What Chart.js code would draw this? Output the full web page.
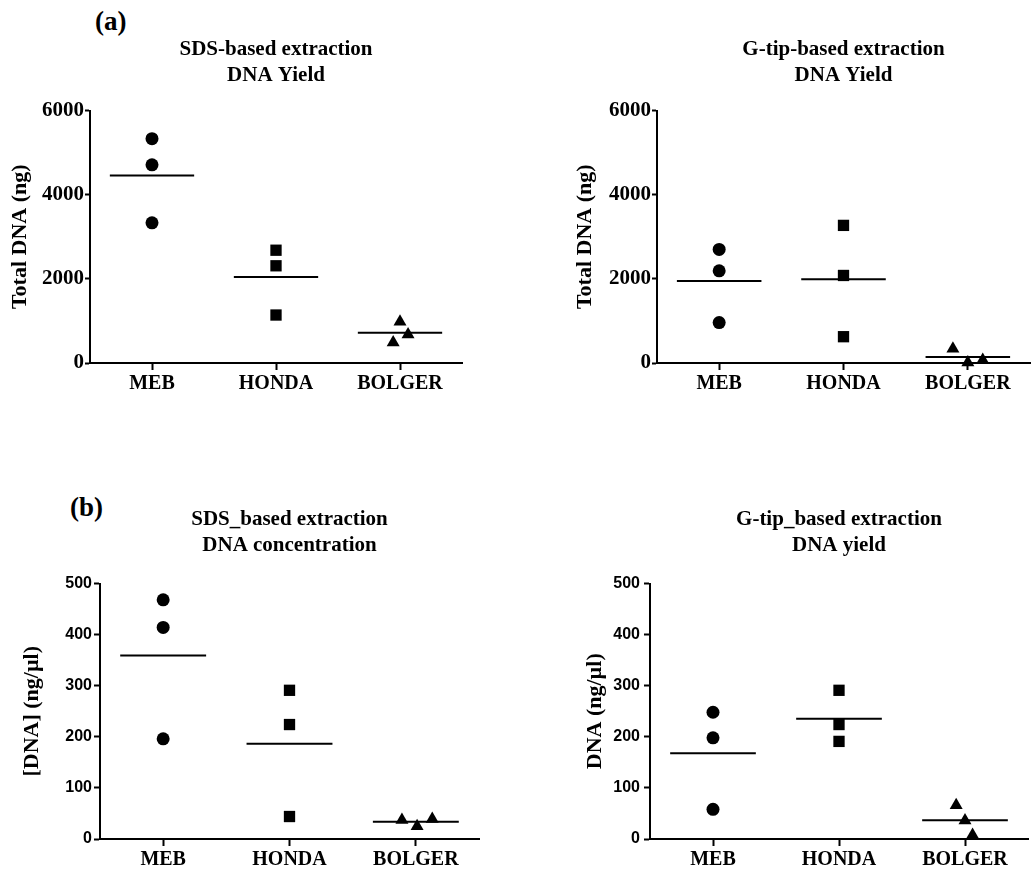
<!DOCTYPE html>
<html>
<head>
<meta charset="utf-8">
<script src="https://cdn.jsdelivr.net/npm/chart.js@4.4.1/dist/chart.umd.min.js"></script>
<style>
  html, body { margin: 0; padding: 0; background: #fff; overflow: hidden; }
  body { width: 1032px; height: 872px; position: relative; }
  canvas { position: absolute; }
  .tag { position: absolute; font: bold 27px "Liberation Serif", "Times New Roman", serif; line-height: 27px; color: #000; }
</style>
</head>
<body>
<div class="tag" style="left:95px; top:8px;">(a)</div>
<div class="tag" style="left:70px; top:494px;">(b)</div>
<canvas id="sdsYield" width="470" height="403" style="left:0; top:0;"></canvas>
<canvas id="gtipYield" width="471" height="403" style="left:567px; top:0;"></canvas>
<canvas id="sdsConc" width="487" height="409" style="left:0; top:470px;"></canvas>
<canvas id="gtipConc" width="486" height="409" style="left:550px; top:470px;"></canvas>
<script>
// groups on the x axis
const groups = ["MEB", "HONDA", "BOLGER"];

// (a) total DNA, ng - one inner array per group
const sdsYield = [[5330, 4710, 3330], [2680, 2310, 1140], [980, 680, 490]];
const gtipYield = [[2700, 2190, 960], [3270, 2080, 625], [340, 10, 70]];

// (b) DNA concentration, ng/µl
const sdsConc = [[468, 414, 196], [291, 224, 44], [37, 25, 39]];
const gtipConc = [[248, 198, 58], [291, 224, 191], [66, 36, 8]];

// horizontal scatter jitter in category units (overlapping points)
const sdsYieldJitter = [[0, 0, 0], [0, 0, 0], [0, 0.065, -0.055]];
const gtipYieldJitter = [[0, 0, 0], [0, 0, 0], [-0.12, 0, 0.12]];
const sdsConcJitter = [[0, 0, 0], [0, 0, 0], [-0.11, 0.01, 0.13]];
const gtipConcJitter = [[0, 0, 0], [0, 0, 0], [-0.07, 0, 0.06]];

// y ticks
const yieldMax = 6000, yieldStep = 2000;
const concMax = 500, concStep = 100;

const SERIF = '"Liberation Serif", "Times New Roman", serif';
const SANS = '"Liberation Sans", Arial, sans-serif';
const shapes = ["circle", "rect", "triangle"];
const radii = [6.5, 8, 7.5];
const meanHalf = 0.34;

function mean(a) {
    return a.reduce((s, v) => s + v, 0) / a.length;
}

function panel(id, titleLines, yLabel, values, jitter, yMax, yStep, cfg) {
    const datasets = [];
    values.forEach(function (vals, g) {
        datasets.push({
            data: vals.map((v, i) => ({ x: g + 1 + jitter[g][i], y: v })),
            pointStyle: shapes[g],
            pointRadius: radii[g],
            backgroundColor: "#000",
            borderColor: "#000",
            borderWidth: 0,
            clip: false,
        });
        const m = mean(vals);
        datasets.push({
            data: [{ x: g + 1 - meanHalf, y: m }, { x: g + 1 + meanHalf, y: m }],
            showLine: true,
            pointRadius: 0,
            borderColor: "#000",
            borderWidth: 2,
            clip: false,
        });
    });

    new Chart(document.getElementById(id), {
        type: "scatter",
        data: { datasets: datasets },
        options: {
            responsive: false,
            animation: false,
            devicePixelRatio: 1,
            layout: { padding: 0 },
            plugins: {
                legend: { display: false },
                tooltip: { enabled: false },
                title: {
                    display: true,
                    text: titleLines,
                    fullSize: false,
                    color: "#000",
                    font: { family: SERIF, size: 21, weight: "bold", lineHeight: 1.25 },
                    padding: { top: 36, bottom: cfg.titleBottom },
                },
            },
            scales: {
                x: {
                    type: "linear",
                    min: 0.5,
                    max: 3.5,
                    afterBuildTicks: function (s) {
                        s.ticks = groups.map((_, i) => ({ value: i + 1 }));
                    },
                    afterFit: function (s) {
                        s.height = 40;
                    },
                    ticks: {
                        callback: (v) => groups[Math.round(v) - 1],
                        color: "#000",
                        font: { family: SERIF, size: 20, weight: "bold" },
                        padding: 2,
                        maxRotation: 0,
                        autoSkip: false,
                    },
                    grid: { drawOnChartArea: false, tickLength: 7, tickColor: "#000", tickWidth: 2 },
                    border: { color: "#000", width: 2 },
                },
                y: {
                    min: 0,
                    max: yMax,
                    afterFit: function (s) {
                        s.width = cfg.yWidth;
                    },
                    ticks: {
                        stepSize: yStep,
                        callback: (v) => String(v),
                        color: "#000",
                        font: cfg.tickFont,
                        padding: cfg.tickPad,
                    },
                    grid: { drawOnChartArea: false, tickLength: cfg.tickLen, tickColor: "#000", tickWidth: 2 },
                    border: { color: "#000", width: 2 },
                    title: {
                        display: true,
                        text: yLabel,
                        color: "#000",
                        font: { family: SERIF, size: 22, weight: "bold", lineHeight: 1.2 },
                        padding: { top: cfg.yTitlePad, bottom: 0 },
                    },
                },
            },
        },
    });
}

const serifTicks = { family: SERIF, size: 21, weight: "bold" };
const sansTicks = { family: SANS, size: 16, weight: "bold" };

panel("sdsYield", ["SDS-based extraction", "DNA Yield"], "Total DNA (ng)",
    sdsYield, sdsYieldJitter, yieldMax, yieldStep,
    { titleBottom: 22, yWidth: 90, tickFont: serifTicks, tickLen: 5, tickPad: 1, yTitlePad: 7 });

panel("gtipYield", ["G-tip-based extraction", "DNA Yield"], "Total DNA (ng)",
    gtipYield, gtipYieldJitter, yieldMax, yieldStep,
    { titleBottom: 22, yWidth: 90, tickFont: serifTicks, tickLen: 5, tickPad: 1, yTitlePad: 5 });

panel("sdsConc", ["SDS_based extraction", "DNA concentration"], "[DNA] (ng/µl)",
    sdsConc, sdsConcJitter, concMax, concStep,
    { titleBottom: 25, yWidth: 100, tickFont: sansTicks, tickLen: 6, tickPad: 2, yTitlePad: 19 });

panel("gtipConc", ["G-tip_based extraction", "DNA yield"], "DNA (ng/µl)",
    gtipConc, gtipConcJitter, concMax, concStep,
    { titleBottom: 25, yWidth: 100, tickFont: sansTicks, tickLen: 6, tickPad: 4, yTitlePad: 32 });
</script>
</body>
</html>
